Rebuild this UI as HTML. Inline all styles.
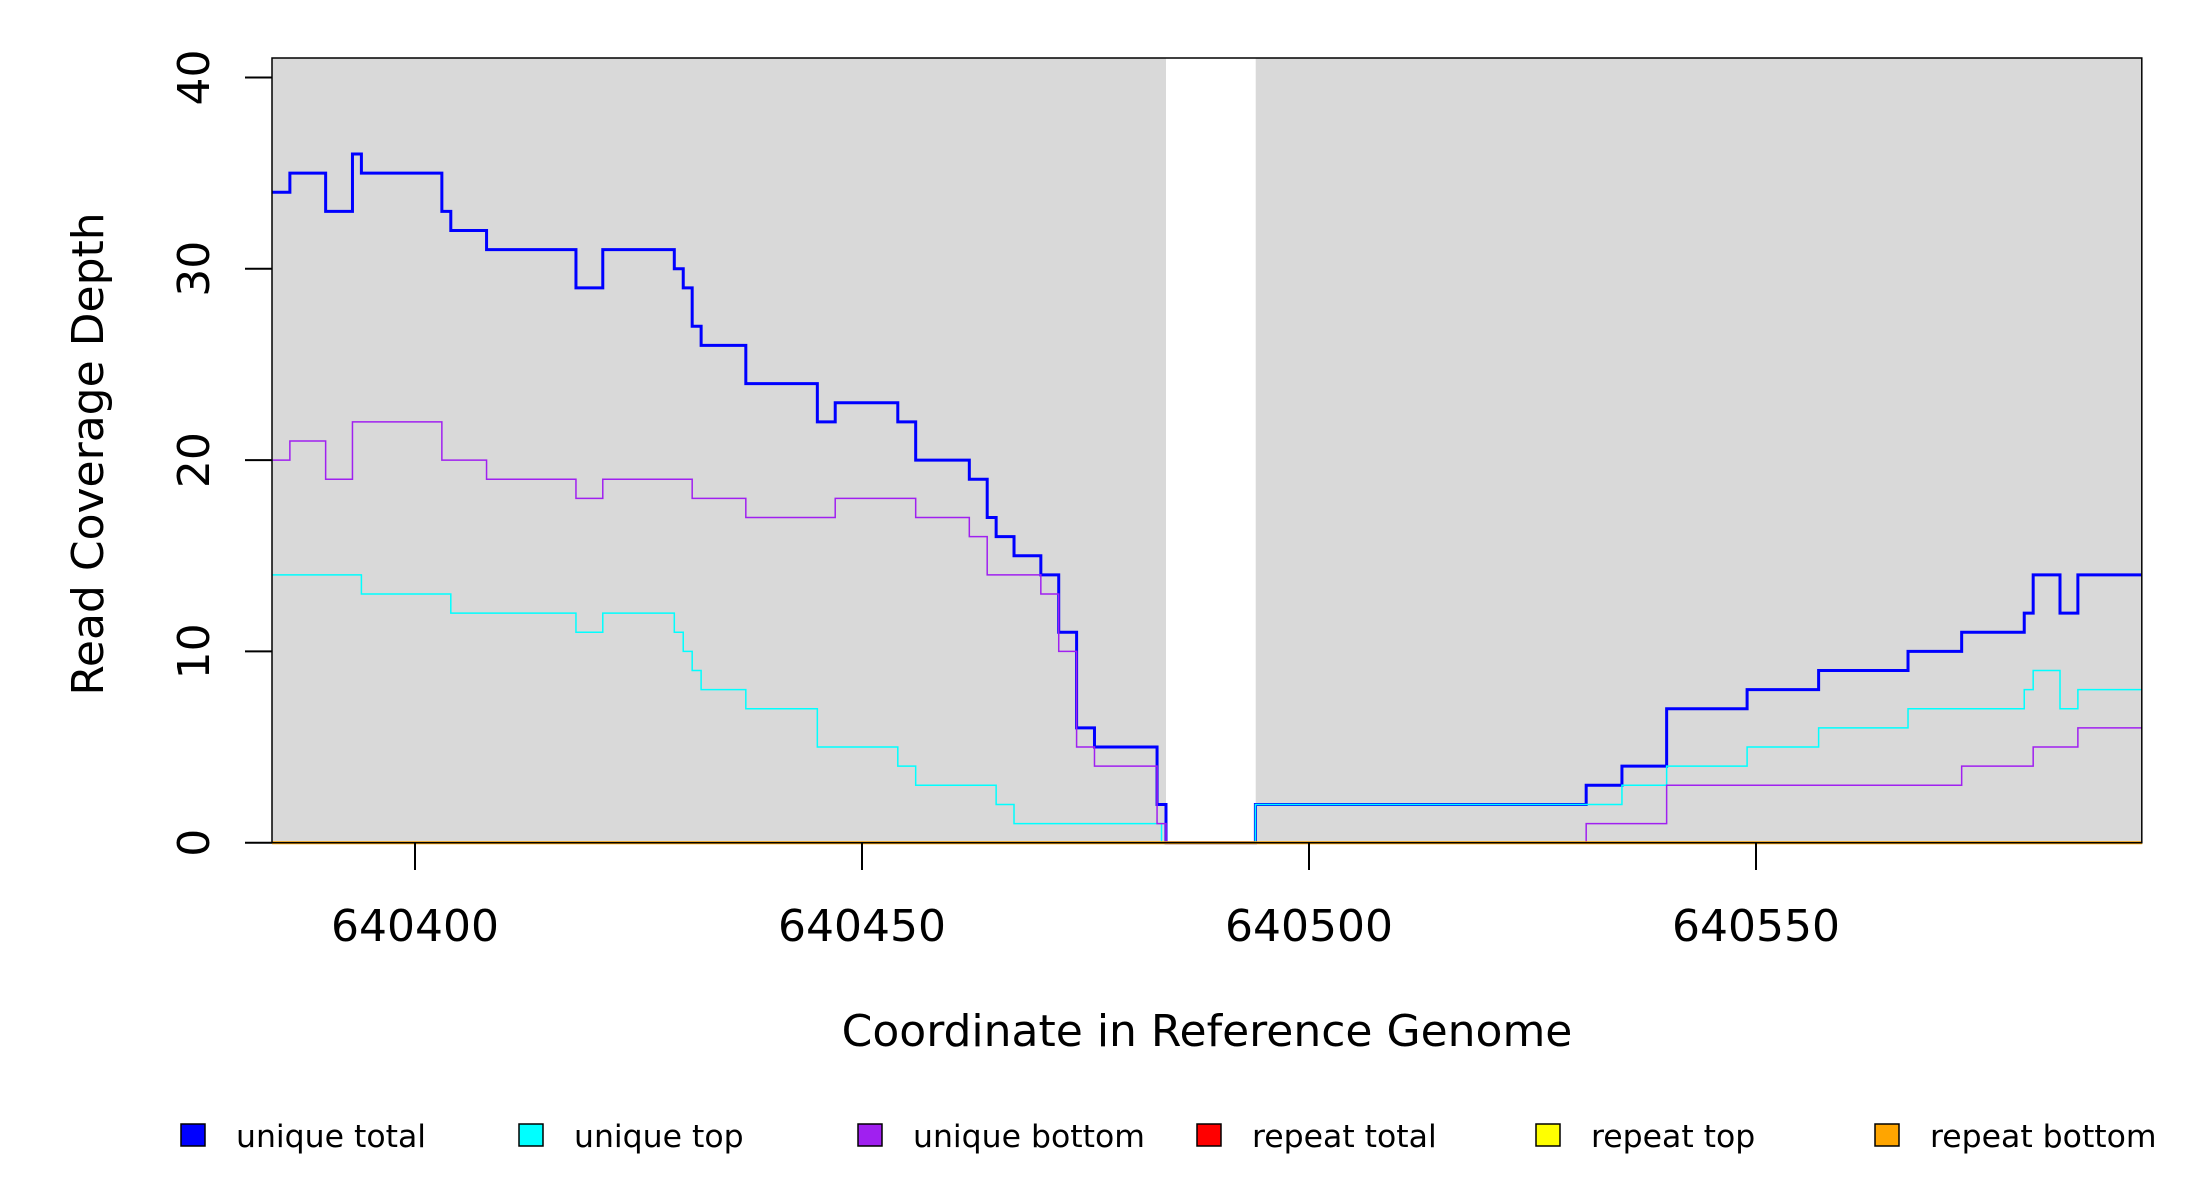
<!DOCTYPE html>
<html><head><meta charset="utf-8"><style>body{margin:0;background:#fff}svg{display:block}text{font-family:"DejaVu Sans","Liberation Sans",sans-serif;fill:#000}</style></head>
<body>
<svg width="2200" height="1200" viewBox="0 0 2200 1200" xmlns="http://www.w3.org/2000/svg">
<rect x="272" y="58" width="894" height="784.7" fill="#d9d9d9"/>
<rect x="1255.7" y="58" width="886.1" height="784.7" fill="#d9d9d9"/>
<g transform="translate(272,842.7) scale(8.94,-19.13)" fill="none" stroke-linejoin="miter">
<path vector-effect="non-scaling-stroke" stroke="#0000ff" stroke-width="3" d="M0,34 H2 V35 H6 V33 H9 V36 H10 V35 H19 V33 H20 V32 H24 V31 H34 V29 H37 V31 H45 V30 H46 V29 H47 V27 H48 V26 H53 V24 H61 V22 H63 V23 H70 V22 H72 V20 H78 V19 H80 V17 H81 V16 H83 V15 H86 V14 H88 V11 H90 V6 H92 V5 H99 V2 H100 V0 H110 V2 H147 V3 H151 V4 H156 V7 H165 V8 H173 V9 H183 V10 H189 V11 H196 V12 H197 V14 H200 V12 H202 V14 H209.2"/>
<path vector-effect="non-scaling-stroke" stroke="#00ffff" stroke-width="1.5" d="M0,14 H10 V13 H20 V12 H34 V11 H37 V12 H45 V11 H46 V10 H47 V9 H48 V8 H53 V7 H61 V5 H70 V4 H72 V3 H81 V2 H83 V1 H99.5 V0 H110 V2 H151 V3 H156 V4 H165 V5 H173 V6 H183 V7 H196 V8 H197 V9 H200 V7 H202 V8 H209.2"/>
<path vector-effect="non-scaling-stroke" stroke="#a020f0" stroke-width="1.5" d="M0,20 H2 V21 H6 V19 H9 V22 H19 V20 H24 V19 H34 V18 H37 V19 H47 V18 H53 V17 H63 V18 H72 V17 H78 V16 H80 V14 H86 V13 H88 V10 H90 V5 H92 V4 H99 V1 H100 V0 H147 V1 H156 V3 H189 V4 H197 V5 H202 V6 H209.2"/>
<path vector-effect="non-scaling-stroke" stroke="#ffa500" stroke-width="3" d="M0,0 H209.2"/>
</g>
<rect x="272" y="58" width="1869.8" height="784.7" fill="none" stroke="#000" stroke-width="1.5"/>
<g stroke="#000" stroke-width="2">
<line x1="245" y1="842.7" x2="272" y2="842.7"/><line x1="245" y1="651.4" x2="272" y2="651.4"/><line x1="245" y1="460.1" x2="272" y2="460.1"/><line x1="245" y1="268.8" x2="272" y2="268.8"/><line x1="245" y1="77.5" x2="272" y2="77.5"/>
<line x1="415" y1="842.7" x2="415" y2="870"/><line x1="862" y1="842.7" x2="862" y2="870"/><line x1="1309" y1="842.7" x2="1309" y2="870"/><line x1="1756" y1="842.7" x2="1756" y2="870"/>
</g>
<g font-size="44" text-anchor="middle">
<text transform="translate(209,842.7) rotate(-90)">0</text>
<text transform="translate(209,651.4) rotate(-90)">10</text>
<text transform="translate(209,460.1) rotate(-90)">20</text>
<text transform="translate(209,268.8) rotate(-90)">30</text>
<text transform="translate(209,77.5) rotate(-90)">40</text>
<text x="415" y="941">640400</text><text x="862" y="941">640450</text><text x="1309" y="941">640500</text><text x="1756" y="941">640550</text>
<text x="1207" y="1046">Coordinate in Reference Genome</text>
<text transform="translate(103,454) rotate(-90)">Read Coverage Depth</text>
</g>
<g stroke="#000" stroke-width="1.5">
<rect x="181" y="1124" width="24" height="22" fill="#0000ff"/>
<rect x="519" y="1124" width="24" height="22" fill="#00ffff"/>
<rect x="858" y="1124" width="24" height="22" fill="#a020f0"/>
<rect x="1197" y="1124" width="24" height="22" fill="#ff0000"/>
<rect x="1536" y="1124" width="24" height="22" fill="#ffff00"/>
<rect x="1875" y="1124" width="24" height="22" fill="#ffa500"/>
</g>
<g font-size="31.5">
<text x="236" y="1147">unique total</text>
<text x="574" y="1147">unique top</text>
<text x="913" y="1147">unique bottom</text>
<text x="1252" y="1147">repeat total</text>
<text x="1591" y="1147">repeat top</text>
<text x="1930" y="1147">repeat bottom</text>
</g>
</svg>
</body></html>
